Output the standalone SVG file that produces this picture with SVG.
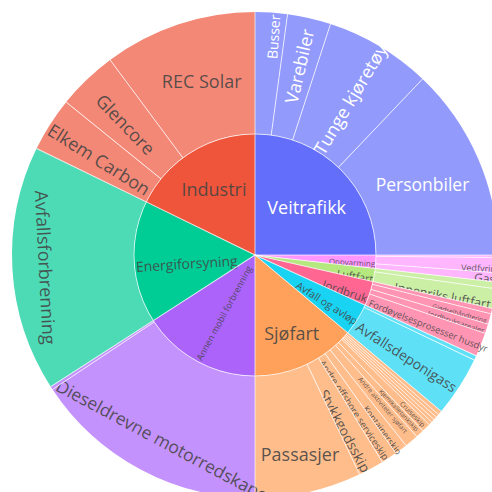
<svg xmlns="http://www.w3.org/2000/svg" xmlns:xlink="http://www.w3.org/1999/xlink" width="492" height="492" viewBox="0 0 492 492">
<style>
.seg{fill:none;stroke-width:122}
.lbl{font-family:"Open Sans","DejaVu Sans",sans-serif;text-anchor:middle;dominant-baseline:central;fill:#444;fill-opacity:.88}
.w{fill:#fff;fill-opacity:1}
.sep{stroke:#fff;stroke-width:0.9;stroke-opacity:.75;fill:none}
</style>
<defs>
<line id="ro" x1="255" y1="134" x2="255" y2="12"/>
<line id="ri" x1="255" y1="255" x2="255" y2="134"/>
</defs>
<rect width="492" height="492" fill="#fff"/>

<!-- inner ring -->
<g id="veitrafikk"><path d="M255,255 L255,134 A121,121 0 0 1 376,255 Z" fill="#636EFA"/><text class="lbl w" transform="translate(306.7 206.7)" font-size="18">Veitrafikk</text></g>
<g id="oppvarming"><path d="M255,255 L376,255 A121,121 0 0 1 375.25,268.49 Z" fill="#FF97FF"/><text class="lbl" transform="translate(352 262) rotate(3.2)" font-size="8">Oppvarming</text></g>
<g id="luftfart"><path d="M255,255 L375.25,268.49 A121,121 0 0 1 373.04,281.6 Z" fill="#B6E880"/><text class="lbl" transform="translate(355 276) rotate(9.55)" font-size="10.5">Luftfart</text></g>
<g id="jordbruk"><path d="M255,255 L373.04,281.6 A121,121 0 0 1 365.11,305.18 Z" fill="#FF6692"/><text class="lbl" transform="translate(345 291) rotate(18.6)" font-size="11.5">Jordbruk</text></g>
<g id="avfall-og-avlop"><path d="M255,255 L365.11,305.18 A121,121 0 0 1 347.69,332.78 Z" fill="#19D3F3"/><text class="lbl" transform="translate(327 303) rotate(32.25)" font-size="10.5">Avfall og avløp</text></g>
<g id="sjofart"><path d="M255,255 L347.69,332.78 A121,121 0 0 1 255,376 Z" fill="#FFA15A"/><text class="lbl" transform="translate(291.7 333.3)" font-size="18">Sjøfart</text></g>
<g id="annen-mobil"><path d="M255,255 L255,376 A121,121 0 0 1 153.29,320.55 Z" fill="#AB63FA"/><text class="lbl" transform="translate(224 313) rotate(-61.4)" font-size="9">Annen mobil forbrenning</text></g>
<g id="energiforsyning"><path d="M255,255 L153.29,320.55 A121,121 0 0 1 146.25,201.96 Z" fill="#00CC96"/><text class="lbl" transform="translate(186.7 263.3) rotate(-3.5)" font-size="14">Energiforsyning</text></g>
<g id="industri"><path d="M255,255 L146.25,201.96 A121,121 0 0 1 255,134 Z" fill="#EF553B"/><text class="lbl" transform="translate(214 189)" font-size="18">Industri</text></g>

<!-- outer ring -->
<g id="busser"><circle class="seg" cx="255" cy="255" r="182" stroke="#929AFC" stroke-dasharray="24.46 1200" transform="rotate(-90 255 255)"/><text class="lbl w" transform="translate(273.3 36.7) rotate(-86.15)" font-size="14">Busser</text></g>
<g id="varebiler"><circle class="seg" cx="255" cy="255" r="182" stroke="#929AFC" stroke-dasharray="33.04 1200" transform="rotate(-82.3 255 255)"/><text class="lbl w" transform="translate(299 66) rotate(-77.1)" font-size="18">Varebiler</text></g>
<g id="tunge"><circle class="seg" cx="255" cy="255" r="182" stroke="#929AFC" stroke-dasharray="81 1200" transform="rotate(-71.9 255 255)"/><text class="lbl w" transform="translate(350 99) rotate(-59.15)" font-size="18">Tunge kjøretøy</text></g>
<g id="personbiler"><circle class="seg" cx="255" cy="255" r="182" stroke="#929AFC" stroke-dasharray="147.39 1200" transform="rotate(-46.4 255 255)"/><text class="lbl w" transform="translate(422.5 184)" font-size="17.5">Personbiler</text></g>

<g id="oppv-annet"><circle class="seg" cx="255" cy="255" r="182" stroke="#FFB6FF" stroke-dasharray="1.91 1200" transform="rotate(0 255 255)"/></g>
<g id="vedfyring"><circle class="seg" cx="255" cy="255" r="182" stroke="#FFB6FF" stroke-dasharray="11.44 1200" transform="rotate(0.6 255 255)"/><text class="lbl" transform="translate(481 268) rotate(2.4)" font-size="9">Vedfyring</text></g>
<g id="gass"><circle class="seg" cx="255" cy="255" r="182" stroke="#FFB6FF" stroke-dasharray="6.99 1200" transform="rotate(4.2 255 255)"/><text class="lbl" transform="translate(487.5 278.5) rotate(5.3)" font-size="12">Gass</text></g>

<g id="utenriks"><circle class="seg" cx="255" cy="255" r="182" stroke="#CCEFA6" stroke-dasharray="5.08 1200" transform="rotate(6.4 255 255)"/><text class="lbl" transform="translate(468 288) rotate(7.2)" font-size="6.5">Utenriks luftfart</text></g>
<g id="innenriks"><circle class="seg" cx="255" cy="255" r="182" stroke="#CCEFA6" stroke-dasharray="14.93 1200" transform="rotate(8 255 255)"/><text class="lbl" transform="translate(442.5 295.8) rotate(10.35)" font-size="12.5">Innenriks luftfart</text></g>

<g id="jord-annet"><circle class="seg" cx="255" cy="255" r="182" stroke="#FF94B3" stroke-dasharray="4.13 1200" transform="rotate(12.7 255 255)"/></g>
<g id="gjodsel"><circle class="seg" cx="255" cy="255" r="182" stroke="#FF94B3" stroke-dasharray="7.94 1200" transform="rotate(14 255 255)"/><text class="lbl" transform="translate(459.5 313.3) rotate(15.3)" font-size="6.5">Gjødselhåndtering</text></g>
<g id="jordbruksarealer"><circle class="seg" cx="255" cy="255" r="182" stroke="#FF94B3" stroke-dasharray="7.31 1200" transform="rotate(16.5 255 255)"/><text class="lbl" transform="translate(456 321.7) rotate(17.6)" font-size="7.5">Jordbruksarealer</text></g>
<g id="fordoyelse"><circle class="seg" cx="255" cy="255" r="182" stroke="#FF94B3" stroke-dasharray="18.11 1200" transform="rotate(18.8 255 255)"/><text class="lbl" transform="translate(428.3 325.8) rotate(21.5)" font-size="9.3">Fordøyelsesprosesser husdyr</text></g>

<g id="avfall-annet"><circle class="seg" cx="255" cy="255" r="182" stroke="#5EE0F7" stroke-dasharray="3.49 1200" transform="rotate(24.5 255 255)"/></g>
<g id="avfallsdeponigass"><circle class="seg" cx="255" cy="255" r="182" stroke="#5EE0F7" stroke-dasharray="45.74 1200" transform="rotate(25.6 255 255)"/><text class="lbl" transform="translate(406.7 356.7) rotate(32.75)" font-size="14">Avfallsdeponigass</text></g>

<g id="sjo-1"><circle class="seg" cx="255" cy="255" r="182" stroke="#FFBD8C" stroke-dasharray="3.18 1200" transform="rotate(40 255 255)"/></g>
<g id="sjo-2"><circle class="seg" cx="255" cy="255" r="182" stroke="#FFBD8C" stroke-dasharray="2.54 1200" transform="rotate(41 255 255)"/></g>
<g id="sjo-3"><circle class="seg" cx="255" cy="255" r="182" stroke="#FFBD8C" stroke-dasharray="2.54 1200" transform="rotate(41.8 255 255)"/></g>
<g id="sjo-4"><circle class="seg" cx="255" cy="255" r="182" stroke="#FFBD8C" stroke-dasharray="2.54 1200" transform="rotate(42.6 255 255)"/></g>
<g id="sjo-5"><circle class="seg" cx="255" cy="255" r="182" stroke="#FFBD8C" stroke-dasharray="2.54 1200" transform="rotate(43.4 255 255)"/></g>
<g id="cruiseskip"><circle class="seg" cx="255" cy="255" r="182" stroke="#FFBD8C" stroke-dasharray="6.67 1200" transform="rotate(44.2 255 255)"/><text class="lbl" transform="translate(412.5 414) rotate(45.3)" font-size="6.8">Cruiseskip</text></g>
<g id="kjemikalietankskip"><circle class="seg" cx="255" cy="255" r="182" stroke="#FFBD8C" stroke-dasharray="6.35 1200" transform="rotate(46.3 255 255)"/><text class="lbl" transform="translate(399 410) rotate(47.1)" font-size="6.3">Kjemikalietankskip</text></g>
<g id="andre-aktiviteter"><circle class="seg" cx="255" cy="255" r="182" stroke="#FFBD8C" stroke-dasharray="10.48 1200" transform="rotate(48.3 255 255)"/><text class="lbl" transform="translate(383 405) rotate(49.5)" font-size="6.5">Andre aktiviteter sjøfart</text></g>
<g id="kontainerskip"><circle class="seg" cx="255" cy="255" r="182" stroke="#FFBD8C" stroke-dasharray="9.53 1200" transform="rotate(51.6 255 255)"/><text class="lbl" transform="translate(382.5 430) rotate(53.9)" font-size="9">Kontainerskip</text></g>
<g id="andre-offshore"><circle class="seg" cx="255" cy="255" r="182" stroke="#FFBD8C" stroke-dasharray="12.07 1200" transform="rotate(54.6 255 255)"/><text class="lbl" transform="translate(354 410) rotate(56.4)" font-size="9.5">Andre offshore serviceskip</text></g>
<g id="stykkgodsskip"><circle class="seg" cx="255" cy="255" r="182" stroke="#FFBD8C" stroke-dasharray="19.38 1200" transform="rotate(58.4 255 255)"/><text class="lbl" transform="translate(345 430.8) rotate(61.4)" font-size="14">Stykkgodsskip</text></g>
<g id="passasjer"><circle class="seg" cx="255" cy="255" r="182" stroke="#FFBD8C" stroke-dasharray="81 1200" transform="rotate(64.5 255 255)"/><text class="lbl" transform="translate(300 454)" font-size="18">Passasjer</text></g>

<g id="dieseldrevne"><circle class="seg" cx="255" cy="255" r="182" stroke="#C492FC" stroke-dasharray="179.15 1200" transform="rotate(90 255 255)"/><text class="lbl" transform="translate(165.5 441.5) rotate(28.2)" font-size="17.5">Dieseldrevne motorredskaper</text></g>
<g id="annen-mobil-annet"><circle class="seg" cx="255" cy="255" r="182" stroke="#C492FC" stroke-dasharray="2.54 1200" transform="rotate(146.4 255 255)"/></g>

<g id="avfallsforbrenning"><circle class="seg" cx="255" cy="255" r="182" stroke="#4DDBB6" stroke-dasharray="186.78 1200" transform="rotate(147.2 255 255)"/><text class="lbl" transform="translate(45.8 267.5) rotate(87)" font-size="18">Avfallsforbrenning</text></g>

<g id="elkem"><circle class="seg" cx="255" cy="255" r="182" stroke="#F48876" stroke-dasharray="41.29 1200" transform="rotate(206 255 255)"/><text class="lbl" transform="translate(99.2 159.2) rotate(32.25)" font-size="18">Elkem Carbon</text></g>
<g id="glencore"><circle class="seg" cx="255" cy="255" r="182" stroke="#F48876" stroke-dasharray="45.74 1200" transform="rotate(219 255 255)"/><text class="lbl" transform="translate(125.8 124.2) rotate(46.2)" font-size="18">Glencore</text></g>
<g id="rec-solar"><circle class="seg" cx="255" cy="255" r="182" stroke="#F48876" stroke-dasharray="116.26 1200" transform="rotate(233.4 255 255)"/><text class="lbl" transform="translate(201.7 81)" font-size="18">REC Solar</text></g>

<g id="separators" class="sep">
<circle cx="255" cy="255" r="121"/>
<use xlink:href="#ri" transform="rotate(0 255 255)"/>
<use xlink:href="#ri" transform="rotate(90 255 255)"/>
<use xlink:href="#ri" transform="rotate(96.4 255 255)"/>
<use xlink:href="#ri" transform="rotate(102.7 255 255)"/>
<use xlink:href="#ri" transform="rotate(114.5 255 255)"/>
<use xlink:href="#ri" transform="rotate(130 255 255)"/>
<use xlink:href="#ri" transform="rotate(180 255 255)"/>
<use xlink:href="#ri" transform="rotate(237.2 255 255)"/>
<use xlink:href="#ri" transform="rotate(296 255 255)"/>
<use xlink:href="#ro" transform="rotate(0 255 255)"/>
<use xlink:href="#ro" transform="rotate(7.7 255 255)"/>
<use xlink:href="#ro" transform="rotate(18.1 255 255)"/>
<use xlink:href="#ro" transform="rotate(43.6 255 255)"/>
<use xlink:href="#ro" transform="rotate(90 255 255)"/>
<use xlink:href="#ro" transform="rotate(90.6 255 255)"/>
<use xlink:href="#ro" transform="rotate(94.2 255 255)"/>
<use xlink:href="#ro" transform="rotate(96.4 255 255)"/>
<use xlink:href="#ro" transform="rotate(98 255 255)"/>
<use xlink:href="#ro" transform="rotate(102.7 255 255)"/>
<use xlink:href="#ro" transform="rotate(104 255 255)"/>
<use xlink:href="#ro" transform="rotate(106.5 255 255)"/>
<use xlink:href="#ro" transform="rotate(108.8 255 255)"/>
<use xlink:href="#ro" transform="rotate(114.5 255 255)"/>
<use xlink:href="#ro" transform="rotate(115.6 255 255)"/>
<use xlink:href="#ro" transform="rotate(130 255 255)"/>
<use xlink:href="#ro" transform="rotate(131 255 255)"/>
<use xlink:href="#ro" transform="rotate(131.8 255 255)"/>
<use xlink:href="#ro" transform="rotate(132.6 255 255)"/>
<use xlink:href="#ro" transform="rotate(133.4 255 255)"/>
<use xlink:href="#ro" transform="rotate(134.2 255 255)"/>
<use xlink:href="#ro" transform="rotate(136.3 255 255)"/>
<use xlink:href="#ro" transform="rotate(138.3 255 255)"/>
<use xlink:href="#ro" transform="rotate(141.6 255 255)"/>
<use xlink:href="#ro" transform="rotate(144.6 255 255)"/>
<use xlink:href="#ro" transform="rotate(148.4 255 255)"/>
<use xlink:href="#ro" transform="rotate(154.5 255 255)"/>
<use xlink:href="#ro" transform="rotate(180 255 255)"/>
<use xlink:href="#ro" transform="rotate(236.4 255 255)"/>
<use xlink:href="#ro" transform="rotate(237.2 255 255)"/>
<use xlink:href="#ro" transform="rotate(296 255 255)"/>
<use xlink:href="#ro" transform="rotate(309 255 255)"/>
<use xlink:href="#ro" transform="rotate(323.4 255 255)"/>
</g>
</svg>
